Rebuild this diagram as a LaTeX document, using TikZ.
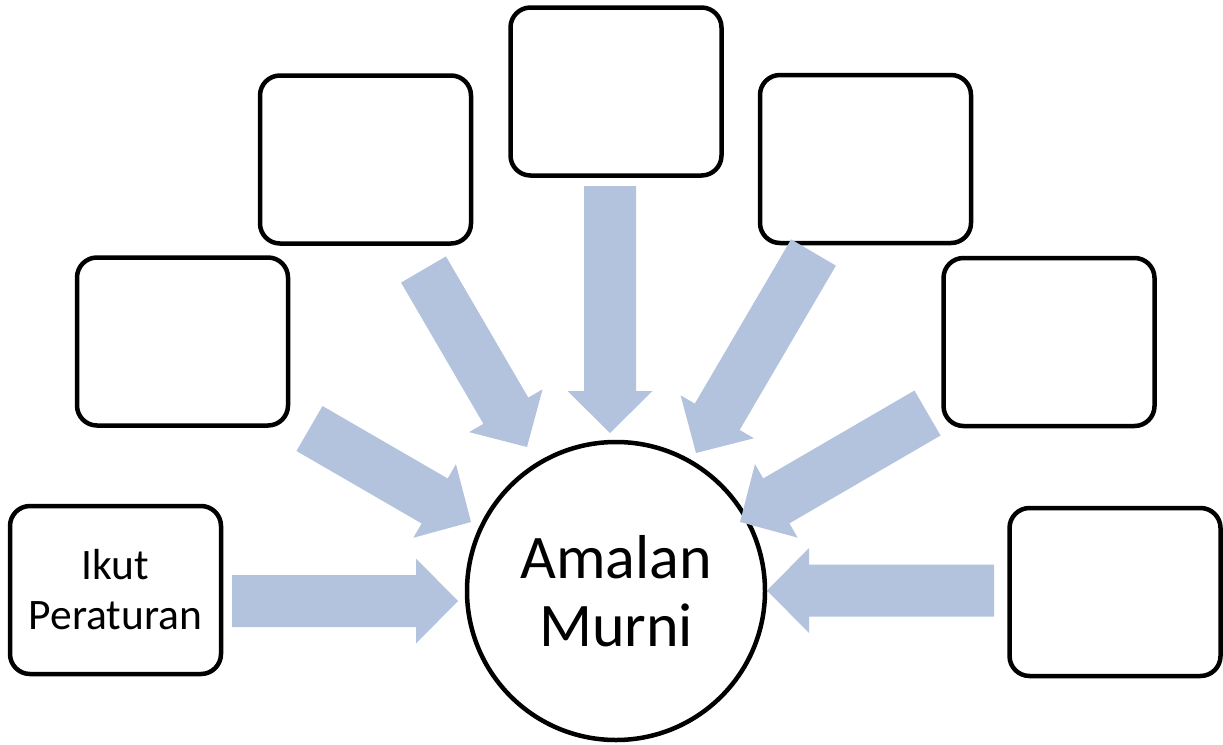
\documentclass[tikz,border=0pt]{standalone}
\usepackage{fontspec}
\setmainfont{Carlito}
\usetikzlibrary{calc}
\definecolor{arrowblue}{RGB}{179,195,222}
\tikzset{
  box/.style={draw=black, line width=4.5pt, rounded corners=20pt, minimum width=211pt, minimum height=168pt, inner sep=0pt, align=center, font=\fontsize{43.5}{50}\selectfont},
  hub/.style={draw=black, line width=4.5pt, circle, minimum size=298pt, inner sep=0pt, align=center, font=\fontsize{62}{68}\selectfont},
  arrowfill/.style={fill=arrowblue}
}
\newcommand\blockarrow[2]{% tail, tip
  \fill[arrowfill] ($(#1)!26pt!90:(#2)$) -- ($($(#2)!42pt!(#1)$)!26pt!-90:(#1)$)
    -- ($($(#2)!42pt!(#1)$)!42.5pt!-90:(#1)$) -- (#2)
    -- ($($(#2)!42pt!(#1)$)!42.5pt!90:(#1)$) -- ($($(#2)!42pt!(#1)$)!26pt!90:(#1)$)
    -- ($(#1)!26pt!-90:(#2)$) -- cycle;}
\begin{document}
\begin{tikzpicture}[x=1pt,y=-1pt]
\useasboundingbox (0,0) rectangle (1223,744);
% boxes
\node[box] (b1) at (115.5,590) {Ikut\\Peraturan};
\node[box] (b2) at (182.5,341.5) {};
\node[box] (b3) at (365.5,159.5) {};
\node[box] (b4) at (616,91.5) {};
\node[box] (b5) at (865.5,159) {};
\node[box] (b6) at (1049,342) {};
\node[box] (b7) at (1115,592) {};
% hub
\node[hub] (c) at (616,591) {Amalan\\Murni};
% arrow ends
\coordinate (t1) at (232,601);   \coordinate (p1) at (458,601);
\coordinate (t2) at (309.5,428.5); \coordinate (p2) at (471,522);
\coordinate (t3) at (423.5,269.5); \coordinate (p3) at (527,447);
\coordinate (t4) at (610,186);   \coordinate (p4) at (610,433);
\coordinate (t5) at (813.5,252.5); \coordinate (p5) at (696,453);
\coordinate (t6) at (927.5,413); \coordinate (p6) at (740,522);
\coordinate (t7) at (994,590.5); \coordinate (p7) at (767,590.5);
\blockarrow{t1}{p1}
\blockarrow{t2}{p2}
\blockarrow{t3}{p3}
\blockarrow{t4}{p4}
\blockarrow{t5}{p5}
\blockarrow{t6}{p6}
\blockarrow{t7}{p7}
\end{tikzpicture}
\end{document}
